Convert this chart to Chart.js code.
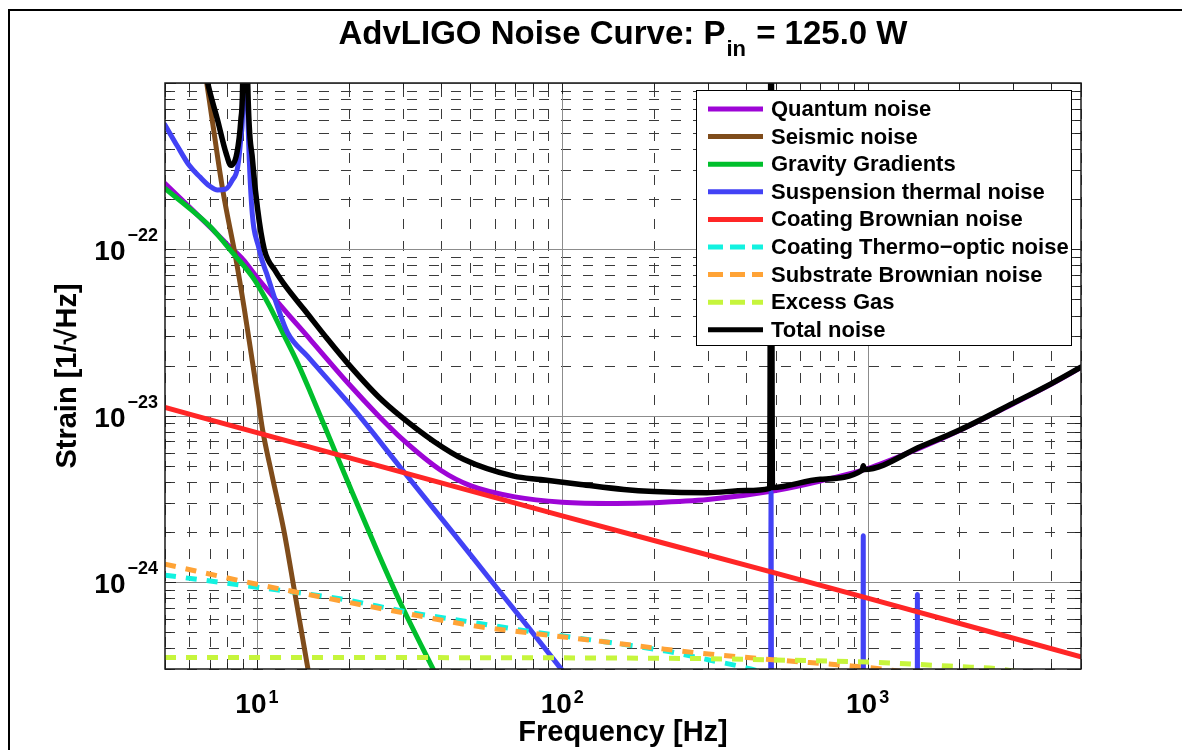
<!DOCTYPE html>
<html>
<head>
<meta charset="utf-8">
<title>AdvLIGO Noise Curve</title>
<script src="https://cdn.jsdelivr.net/npm/chart.js@4.4.1/dist/chart.umd.min.js"></script>
<style>
  html, body { margin: 0; padding: 0; background: #fff; }
  canvas { display: block; }
</style>
</head>
<body>
<canvas id="noise" width="1182" height="750"></canvas>
<script>
// frequency [Hz] and strain [1/rtHz], one pair of arrays per curve
const quantumFreq = [5, 6, 7, 8, 9, 10, 12, 15, 20, 25, 30, 40, 50, 70, 100, 150, 200, 300, 500, 700, 1000, 1500, 2000, 3000, 4000, 5000];
const quantumStrain = [2.49e-22, 1.80e-22, 1.37e-22, 1.07e-22, 8.7e-23, 6.8e-23, 4.56e-23, 2.85e-23, 1.55e-23, 1.0e-23, 7.2e-24, 4.7e-24, 3.8e-24, 3.25e-24, 3.02e-24, 2.97e-24, 3.0e-24, 3.13e-24, 3.55e-24, 4.05e-24, 4.8e-24, 6.45e-24, 8.15e-24, 1.18e-23, 1.55e-23, 1.95e-23];

const seismicFreq = [5, 6, 6.5, 6.85, 7.72, 8.54, 9.09, 10, 10.44, 11.2, 12.28, 13.25, 14.65, 16];
const seismicStrain = [4e-20, 5e-21, 1.8e-21, 1e-21, 2.3e-22, 8.7e-23, 4.4e-23, 1.4e-23, 8.2e-24, 4.4e-24, 2.0e-24, 9e-25, 3.1e-25, 1.2e-25];

const gravityFreq = [5, 6, 7, 8.3, 9.8, 10.97, 12, 13.6, 15, 17.5, 20, 25, 29.6, 37.1, 45];
const gravityStrain = [2.32e-22, 1.77e-22, 1.38e-22, 9.6e-23, 6.6e-23, 4.6e-23, 3.3e-23, 2.07e-23, 1.37e-23, 6.96e-24, 3.87e-24, 1.48e-24, 7.4e-25, 3.2e-25, 1.6e-25];

const suspensionFreq = [5, 5.5, 6, 6.5, 7, 7.43, 7.9, 8.3, 8.65, 8.86, 9.0, 9.12, 9.3, 9.55, 10.17, 10.84, 11.69, 12.6, 14.66, 17.5, 20.8, 29.6, 42.2, 60, 76.9, 97.8, 130, 200, 300, 480, 483, 486, 700, 965, 968, 971, 1300, 1453, 1456, 1459, 3000, 5000];
const suspensionStrain = [5.6e-22, 4.15e-22, 3.2e-22, 2.73e-22, 2.4e-22, 2.27e-22, 2.3e-22, 2.6e-22, 3.12e-22, 4.7e-22, 8e-22, 1e-20, 9e-22, 2.2e-22, 1e-22, 6.9e-23, 4.5e-23, 3.15e-23, 2.27e-23, 1.57e-23, 1.09e-23, 4.85e-24, 2.16e-24, 9.6e-25, 5.43e-25, 3.1e-25, 1.6e-25, 6e-26, 2.6e-26, 1.2e-26, 3.45e-24, 1.2e-26, 6e-27, 4e-27, 1.9e-24, 4e-27, 2.5e-27, 2e-27, 8.4e-25, 2e-27, 8e-28, 3e-28];

const coatBrownFreq = [5, 10, 100, 500, 1000, 5000];
const coatBrownStrain = [1.12e-23, 7.9e-24, 2.5e-24, 1.13e-24, 8.0e-25, 3.55e-25];

const coatThermoFreq = [5, 10, 18.9, 31.2, 51.5, 80.9, 110, 216, 303, 414, 600, 1000];
const coatThermoStrain = [1.1e-24, 9.3e-25, 7.9e-25, 6.6e-25, 5.7e-25, 5.0e-25, 4.63e-25, 3.86e-25, 3.4e-25, 3.0e-25, 2.4e-25, 1.5e-25];

const substrateFreq = [5, 10, 18.9, 31.2, 51.5, 80.9, 131, 216, 308, 500, 885, 1200, 2000, 5000];
const substrateStrain = [1.28e-24, 9.7e-25, 7.7e-25, 6.45e-25, 5.45e-25, 4.9e-25, 4.42e-25, 3.95e-25, 3.68e-25, 3.4e-25, 3.13e-25, 2.95e-25, 2.6e-25, 2.0e-25];

const gasFreq = [5, 100, 300, 500, 1000, 2000, 2700, 3500];
const gasStrain = [3.52e-25, 3.5e-25, 3.46e-25, 3.4e-25, 3.3e-25, 3.1e-25, 3.0e-25, 2.8e-25];

const totalFreq = [5, 6, 6.5, 6.9, 7.43, 7.92, 8.22, 8.6, 8.86, 8.98, 9.12, 9.33, 9.68, 10.05, 10.57, 11.5, 12.5, 14.3, 17, 19.8, 25, 29.6, 38, 47.7, 69.4, 85, 115, 159, 200, 298, 400, 478, 483, 488, 700, 960, 968, 975, 1500, 2000, 3000, 4000, 5000];
const totalStrain = [4e-20, 5e-21, 1.8e-21, 1.0e-21, 6.0e-22, 3.8e-22, 3.2e-22, 3.8e-22, 6.0e-22, 1.0e-21, 2e-20, 1.0e-21, 3.4e-22, 1.75e-22, 1.0e-22, 7.4e-23, 5.9e-23, 4.33e-23, 2.9e-23, 2.07e-23, 1.3e-23, 9.9e-24, 7.0e-24, 5.45e-24, 4.33e-24, 4.13e-24, 3.86e-24, 3.6e-24, 3.5e-24, 3.44e-24, 3.55e-24, 3.66e-24, 5e-21, 3.7e-24, 4.15e-24, 4.7e-24, 5.0e-24, 4.75e-24, 6.55e-24, 8.2e-24, 1.19e-23, 1.56e-23, 1.96e-23];

const seriesLabels = ['Quantum noise', 'Seismic noise', 'Gravity Gradients', 'Suspension thermal noise', 'Coating Brownian noise', 'Coating Thermo\u2212optic noise', 'Substrate Brownian noise', 'Excess Gas', 'Total noise'];
const xDecades = [10, 100, 1000];
const xExponents = ['1', '2', '3'];
const yDecades = [1e-22, 1e-23, 1e-24];
const yExponents = ['\u221222', '\u221223', '\u221224'];

const FONT = '"Liberation Sans", Arial, Helvetica, sans-serif';

function pairs(fs, hs) {
    return fs.map((f, i) => ({ x: f, y: hs[i] }));
}

function line(label, fs, hs, color, dashed, idx) {
    return {
        label: label,
        data: pairs(fs, hs),
        borderColor: color,
        backgroundColor: color,
        borderWidth: idx === 8 ? 5.5 : 5,
        borderDash: dashed ? [11, 10] : [],
        borderCapStyle: dashed ? 'butt' : 'round',
        borderJoinStyle: 'round',
        cubicInterpolationMode: 'monotone',
        pointRadius: 0,
        fill: false,
        dashed: dashed,
        order: 20 - idx  // later series on top, like the original
    };
}

const datasets = [
    line(seriesLabels[0], quantumFreq, quantumStrain, '#9d05d6', false, 0),
    line(seriesLabels[1], seismicFreq, seismicStrain, '#7f4c1b', false, 1),
    line(seriesLabels[2], gravityFreq, gravityStrain, '#00bf2c', false, 2),
    line(seriesLabels[3], suspensionFreq, suspensionStrain, '#4242f5', false, 3),
    line(seriesLabels[4], coatBrownFreq, coatBrownStrain, '#ff2626', false, 4),
    line(seriesLabels[5], coatThermoFreq, coatThermoStrain, '#12f2e0', true, 5),
    line(seriesLabels[6], substrateFreq, substrateStrain, '#ffa336', true, 6),
    line(seriesLabels[7], gasFreq, gasStrain, '#c6f53c', true, 7),
    line(seriesLabels[8], totalFreq, totalStrain, '#000000', false, 8)
];

function gridValues(min, max) {
    const out = [];
    for (let e = Math.floor(Math.log10(min)); e <= Math.ceil(Math.log10(max)); e++) {
        for (let m = 1; m <= 9; m++) {
            const v = m * Math.pow(10, e);
            if (v >= min * 0.999 && v <= max * 1.001) out.push({ v: v, major: m === 1 });
        }
    }
    return out;
}

// frame, grid, ticks, box
const axesPlugin = {
    id: 'axesPlugin',
    beforeDraw(chart) {
        const ctx = chart.ctx;
        ctx.save();
        ctx.fillStyle = '#fff';
        ctx.fillRect(0, 0, chart.width, chart.height);
        ctx.strokeStyle = '#000';
        ctx.lineWidth = 2;
        ctx.beginPath();
        ctx.moveTo(9, chart.height);
        ctx.lineTo(9, 10);
        ctx.lineTo(chart.width, 10);
        ctx.stroke();
        ctx.restore();
    },
    beforeDatasetsDraw(chart) {
        const { ctx, chartArea: a, scales: { x, y } } = chart;
        const xs = gridValues(x.min, x.max);
        const ys = gridValues(y.min, y.max);
        ctx.save();
        ctx.lineWidth = 1;
        // dashed minor grid
        ctx.setLineDash([10, 12]);
        ctx.strokeStyle = '#3a3a3a';
        ctx.beginPath();
        xs.filter(t => !t.major).forEach(t => {
            const px = Math.round(x.getPixelForValue(t.v)) + 0.5;
            ctx.moveTo(px, a.bottom);
            ctx.lineTo(px, a.top);
        });
        ys.filter(t => !t.major).forEach(t => {
            const py = Math.round(y.getPixelForValue(t.v)) + 0.5;
            ctx.moveTo(a.left, py);
            ctx.lineTo(a.right, py);
        });
        ctx.stroke();
        // solid major grid
        ctx.setLineDash([]);
        ctx.strokeStyle = '#8c8c8c';
        ctx.beginPath();
        xs.filter(t => t.major).forEach(t => {
            const px = Math.round(x.getPixelForValue(t.v)) + 0.5;
            ctx.moveTo(px, a.bottom);
            ctx.lineTo(px, a.top);
        });
        ys.filter(t => t.major).forEach(t => {
            const py = Math.round(y.getPixelForValue(t.v)) + 0.5;
            ctx.moveTo(a.left, py);
            ctx.lineTo(a.right, py);
        });
        ctx.stroke();
        // inward ticks on all four sides
        ctx.strokeStyle = '#222';
        ctx.beginPath();
        xs.forEach(t => {
            const px = Math.round(x.getPixelForValue(t.v)) + 0.5;
            const len = t.major ? 11 : 6;
            ctx.moveTo(px, a.bottom); ctx.lineTo(px, a.bottom - len);
            ctx.moveTo(px, a.top); ctx.lineTo(px, a.top + len);
        });
        ys.forEach(t => {
            const py = Math.round(y.getPixelForValue(t.v)) + 0.5;
            const len = t.major ? 11 : 6;
            ctx.moveTo(a.left, py); ctx.lineTo(a.left + len, py);
            ctx.moveTo(a.right, py); ctx.lineTo(a.right - len, py);
        });
        ctx.stroke();
        ctx.restore();
    },
    afterDatasetsDraw(chart) {
        const { ctx, chartArea: a } = chart;
        ctx.save();
        ctx.strokeStyle = '#1a1a1a';
        ctx.lineWidth = 1.5;
        ctx.strokeRect(a.left, a.top, a.right - a.left, a.bottom - a.top);
        ctx.restore();
    }
};

function drawPower(ctx, x, baseline, exp, align, raise) {
    const big = 'bold 28px ' + FONT;
    const small = 'bold 18px ' + FONT;
    ctx.font = big;
    const wb = ctx.measureText('10').width;
    ctx.font = small;
    const we = ctx.measureText(exp).width;
    const total = wb + 2 + we;
    const left = align === 'right' ? x - total : x - total / 2;
    ctx.textAlign = 'left';
    ctx.textBaseline = 'alphabetic';
    ctx.font = big;
    ctx.fillText('10', left, baseline);
    ctx.font = small;
    ctx.fillText(exp, left + wb + 2, baseline - raise);
}

// title, axis labels, tick labels, legend
const textPlugin = {
    id: 'textPlugin',
    afterDraw(chart) {
        const { ctx, chartArea: a, scales: { x, y } } = chart;
        const cx = (a.left + a.right) / 2;
        ctx.save();
        ctx.fillStyle = '#000';

        // title with subscript
        const tMain = 'bold 33px ' + FONT;
        const tSub = 'bold 22px ' + FONT;
        const partA = 'AdvLIGO Noise Curve: P';
        const partB = 'in';
        const partC = ' = 125.0 W';
        ctx.font = tMain;
        const wA = ctx.measureText(partA).width;
        const wC = ctx.measureText(partC).width;
        ctx.font = tSub;
        const wB = ctx.measureText(partB).width;
        let tx = cx - (wA + wB + wC + 2) / 2;
        ctx.textAlign = 'left';
        ctx.textBaseline = 'alphabetic';
        ctx.font = tMain;
        ctx.fillText(partA, tx, 44);
        ctx.font = tSub;
        ctx.fillText(partB, tx + wA + 1, 56);
        ctx.font = tMain;
        ctx.fillText(partC, tx + wA + wB + 2, 44);

        // tick labels
        xDecades.forEach((v, i) => {
            drawPower(ctx, x.getPixelForValue(v), 713, xExponents[i], 'center', 10);
        });
        yDecades.forEach((v, i) => {
            drawPower(ctx, a.left - 7, y.getPixelForValue(v) + 11, yExponents[i], 'right', 19);
        });

        // axis titles
        ctx.font = 'bold 29px ' + FONT;
        ctx.textAlign = 'center';
        ctx.fillText('Frequency [Hz]', cx, 741);
        ctx.translate(76, (a.top + a.bottom) / 2);
        ctx.rotate(-Math.PI / 2);
        ctx.fillText('Strain [1/\u221AHz]', 0, 0);
        ctx.restore();

        // legend box
        ctx.save();
        const bx = 696.5, by = 90.5, bw = 375, bh = 255;
        ctx.fillStyle = '#fff';
        ctx.fillRect(bx, by, bw, bh);
        ctx.strokeStyle = '#000';
        ctx.lineWidth = 1;
        ctx.strokeRect(bx, by, bw, bh);
        ctx.font = 'bold 22px ' + FONT;
        ctx.textAlign = 'left';
        ctx.textBaseline = 'middle';
        chart.data.datasets.forEach((ds, i) => {
            const ry = 109 + i * 27.6;
            ctx.strokeStyle = ds.borderColor;
            ctx.lineWidth = 5;
            ctx.lineCap = 'butt';
            ctx.setLineDash(ds.dashed ? [15, 7] : []);
            ctx.beginPath();
            ctx.moveTo(708, ry);
            ctx.lineTo(763, ry);
            ctx.stroke();
            ctx.setLineDash([]);
            ctx.fillStyle = '#000';
            ctx.fillText(ds.label, 771, ry + 1);
        });
        ctx.restore();
    }
};

new Chart(document.getElementById('noise').getContext('2d'), {
    type: 'line',
    data: { datasets: datasets },
    options: {
        responsive: false,
        animation: false,
        devicePixelRatio: 1,
        layout: { padding: { left: 165, top: 83, right: 101, bottom: 81 } },
        scales: {
            x: { type: 'logarithmic', min: 5, max: 5000, display: false },
            y: { type: 'logarithmic', min: 3e-25, max: 1e-21, display: false }
        },
        plugins: {
            legend: { display: false },
            tooltip: { enabled: false },
            title: { display: false }
        }
    },
    plugins: [axesPlugin, textPlugin]
});
</script>
</body>
</html>
